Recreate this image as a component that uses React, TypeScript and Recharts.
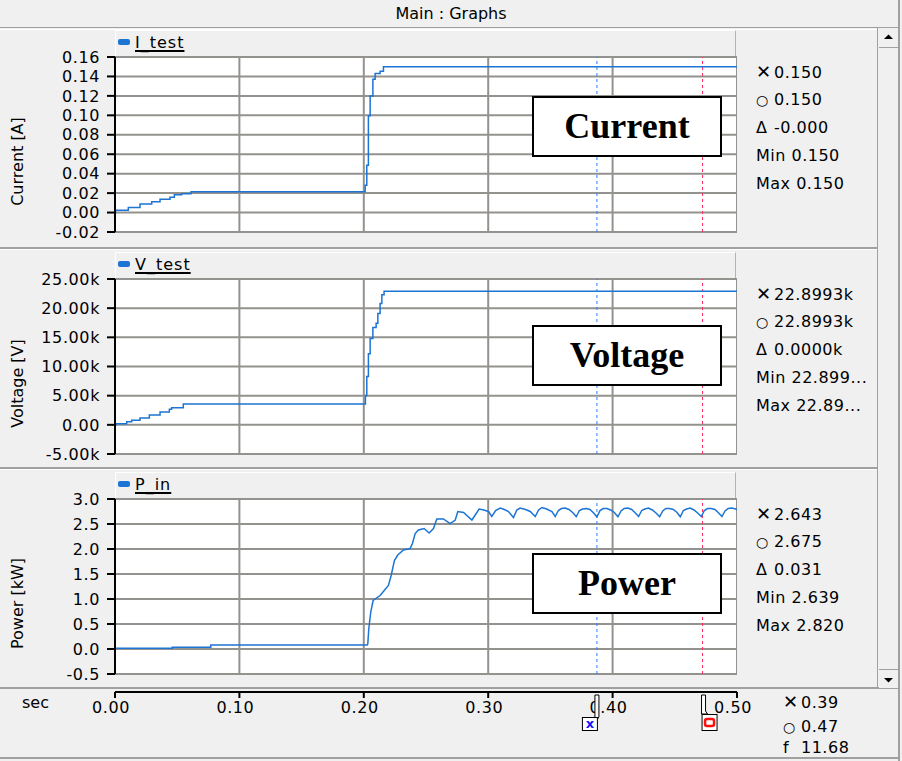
import React from "react";
import {
  CartesianGrid,
  Line,
  LineChart,
  ReferenceLine,
  XAxis,
  YAxis,
} from "recharts";

// PSCAD style "Main : Graphs" window, three stacked panels sharing one time axis

const FONT = '"DejaVu Sans", Verdana, sans-serif';
const SERIF = '"Liberation Serif", "Times New Roman", serif';
const BG = "#f0f0f0";
const EDGE = "#a0a0a0";
const TRACE = "#1c74d4";
const GRID = "#94928e";

const xTicks = [0, 0.1, 0.2, 0.3, 0.4, 0.5];
const cursorX = 0.3874;
const cursorO = 0.4723;
const cursorTicks = [cursorX, cursorO];

const iTicks = [-0.02, 0, 0.02, 0.04, 0.06, 0.08, 0.1, 0.12, 0.14, 0.16];
const vTicks = [-5000, 0, 5000, 10000, 15000, 20000, 25000];
const pTicks = [-0.5, 0, 0.5, 1.0, 1.5, 2.0, 2.5, 3.0];

// I_test [A]
const iTime = [0, 0.0005, 0.0107, 0.0201, 0.0295, 0.0362, 0.0442, 0.0477, 0.0536, 0.0611, 0.1997, 0.2011, 0.2024, 0.2037, 0.2051, 0.2073, 0.2091, 0.2131, 0.2158, 0.5];
const iValue = [0.0, 0.0023, 0.0052, 0.0087, 0.011, 0.0136, 0.0158, 0.0184, 0.0194, 0.0213, 0.0213, 0.028, 0.0486, 0.0995, 0.12, 0.137, 0.143, 0.1453, 0.15, 0.15];

// V_test [V]
const vTime = [0, 0.0008, 0.0094, 0.0134, 0.0201, 0.0276, 0.0362, 0.0437, 0.0455, 0.0549, 0.2003, 0.2013, 0.2024, 0.2037, 0.2051, 0.2073, 0.2099, 0.2113, 0.2131, 0.2145, 0.2163, 0.5];
const vValue = [0, 180, 540, 770, 1190, 1670, 2200, 2680, 2920, 3570, 3570, 5050, 8300, 12200, 14800, 16700, 17400, 19100, 20800, 22300, 22900, 22900];

// P_in [kW]
const pTime = [
  0, 0.046, 0.046, 0.077, 0.077, 0.2027, 0.2032, 0.204, 0.2056, 0.2075, 0.2131, 0.2171, 0.2198, 0.222,
  0.2246, 0.2273, 0.2319, 0.2372, 0.2391, 0.2413, 0.2439, 0.2485, 0.2525, 0.256, 0.2587, 0.264, 0.2694,
  0.2735, 0.2756, 0.2802, 0.2869, 0.2927, 0.2965, 0.3002, 0.3029, 0.306, 0.3096, 0.313, 0.3163, 0.3203,
  0.323, 0.3256, 0.33, 0.3338, 0.3378, 0.3405, 0.3432, 0.347, 0.3512, 0.3539,
  0.3564, 0.3589, 0.3619, 0.3649, 0.3679, 0.3708,
  0.3733, 0.3758, 0.3788, 0.3818, 0.3848, 0.3874,
  0.3899, 0.3924, 0.3954, 0.3984, 0.4014, 0.4043,
  0.4068, 0.4093, 0.4123, 0.4153, 0.4183, 0.4209,
  0.4234, 0.4259, 0.4289, 0.4319, 0.4349, 0.4378,
  0.4403, 0.4428, 0.4458, 0.4488, 0.4518, 0.4544,
  0.4569, 0.4594, 0.4624, 0.4654, 0.4684, 0.4713,
  0.4738, 0.4763, 0.4793, 0.4823, 0.4853, 0.4879,
  0.4904, 0.4929, 0.4959, 0.4989, 0.5,
];
const pValue = [
  0.015, 0.015, 0.035, 0.035, 0.08, 0.08, 0.1, 0.4, 0.74, 0.97, 1.07, 1.19, 1.27, 1.47,
  1.77, 1.88, 1.98, 2.01, 2.11, 2.31, 2.38, 2.41, 2.32, 2.41, 2.6, 2.6, 2.51,
  2.58, 2.75, 2.73, 2.58, 2.8, 2.78, 2.75, 2.65, 2.77, 2.82, 2.79, 2.75, 2.63,
  2.78, 2.82, 2.79, 2.75, 2.65, 2.78, 2.83, 2.8, 2.75, 2.65,
  2.77, 2.81, 2.82, 2.79, 2.73, 2.645,
  2.77, 2.8, 2.81, 2.79, 2.72, 2.643,
  2.77, 2.81, 2.81, 2.78, 2.73, 2.645,
  2.76, 2.81, 2.82, 2.79, 2.72, 2.65,
  2.77, 2.8, 2.82, 2.78, 2.72, 2.645,
  2.76, 2.81, 2.81, 2.79, 2.73, 2.645,
  2.77, 2.8, 2.82, 2.78, 2.72, 2.65,
  2.77, 2.81, 2.81, 2.79, 2.72, 2.65,
  2.76, 2.81, 2.82, 2.8, 2.79,
];

const iData = iTime.map((t, k) => ({ t, v: iValue[k] }));
const vData = vTime.map((t, k) => ({ t, v: vValue[k] }));
const pData = pTime.map((t, k) => ({ t, v: pValue[k] }));

const fmtI = (v: number) => v.toFixed(2);
const fmtV = (v: number) => (v === 0 ? "0.00" : `${(v / 1000).toFixed(2)}k`);
const fmtP = (v: number) => v.toFixed(1);

function AxisTitle({ viewBox, value }: any) {
  const cy = (viewBox ? viewBox.y + viewBox.height / 2 : 97) + 17;
  return (
    <text
      x={23}
      y={cy}
      transform={`rotate(-90 23 ${cy})`}
      textAnchor="middle"
      fontSize={16}
      fontFamily={FONT}
      fill="#000"
    >
      {value}
    </text>
  );
}

// cursor flags hanging under the time axis (drawn as ticks of a cursor axis)
function CursorFlag({ x, y, payload }: any) {
  const top = y + 4;
  if (Math.abs(payload.value - cursorX) < 1e-6) {
    return (
      <g>
        <path d={`M${x - 2},${top} h4 v22 l-2,3 h-2 z`} fill="#fff" stroke="#000" strokeWidth={1} />
        <rect x={x - 14.5} y={top + 22.5} width={15} height={13} fill="#fff" stroke="#000" strokeWidth={1} />
        <text x={x - 7} y={top + 33} textAnchor="middle" fontSize={13} fontWeight="bold" fontFamily={FONT} fill="#1515ff">
          x
        </text>
      </g>
    );
  }
  return (
    <g>
      <path d={`M${x - 1},${top} h4 v16 l2,3 h-6 z`} fill="#fff" stroke="#000" strokeWidth={1} />
      <rect x={x - 0.5} y={top + 19.5} width={15} height={16} fill="#fff" stroke="#000" strokeWidth={1} />
      <rect x={x + 2.5} y={top + 24} width={9} height={7} rx={2} fill="#fff" stroke="#ff1010" strokeWidth={2.5} />
    </g>
  );
}

interface PanelProps {
  plotTop: number;
  data: { t: number; v: number }[];
  ticks: number[];
  fmt: (v: number) => string;
  title: string;
  legend: string;
  step: boolean;
  info: string[];
  note: string;
  noteTop: number;
}

function Symbol({ k, s }: { k: number; s: string }) {
  return (
    <span
      style={{
        display: "inline-block",
        width: 18,
        fontSize: k === 1 ? 14 : k === 0 ? 18 : 16,
        fontWeight: k === 1 ? "bold" : "normal",
      }}
    >
      {s}
    </span>
  );
}

function Panel({ plotTop, data, ticks, fmt, title, legend, step, info, note, noteTop }: PanelProps) {
  const syms = ["✕", "○", "Δ"];
  return (
    <>
      {/* legend strip */}
      <div
        style={{
          position: "absolute",
          left: 115,
          top: plotTop - 27,
          width: 621,
          height: 27,
          boxSizing: "border-box",
          borderTop: "1px solid #fff",
          borderLeft: "1px solid #fff",
          borderRight: "1px solid #b4b4b4",
          background: BG,
        }}
      />
      <div
        style={{
          position: "absolute",
          left: 118,
          top: plotTop - 18,
          width: 12,
          height: 6,
          borderRadius: 2,
          background: TRACE,
        }}
      />
      <div
        style={{
          position: "absolute",
          left: 135,
          top: plotTop - 24,
          fontSize: 16,
          lineHeight: "20px",
          letterSpacing: 1,
          textDecoration: "underline",
          textDecorationThickness: 2,
          textUnderlineOffset: 2,
        }}
      >
        {legend}
      </div>

      <div style={{ position: "absolute", left: 0, top: plotTop - 10 }}>
        <LineChart width={737} height={195} data={data} margin={{ top: 10, right: 0, bottom: 10, left: 0 }}>
          <CartesianGrid fill="#ffffff" horizontal={false} vertical={false} />
          <XAxis
            type="number"
            dataKey="t"
            domain={[0, 0.5]}
            ticks={xTicks}
            height={0}
            tick={false}
            tickLine={false}
            axisLine={false}
          />
          <YAxis
            type="number"
            domain={[ticks[0], ticks[ticks.length - 1]]}
            ticks={ticks}
            interval={0}
            width={115}
            tickFormatter={fmt}
            tick={{ fill: "#000", fontSize: 16, fontFamily: FONT, letterSpacing: 0.6 }}
            tickSize={8}
            tickMargin={7}
            axisLine={{ stroke: "#000", strokeWidth: 2 }}
            tickLine={{ stroke: "#000", strokeWidth: 2 }}
            label={<AxisTitle value={title} />}
          />
          {ticks.map((v) => (
            <ReferenceLine key={`h${v}`} y={v} stroke={GRID} strokeWidth={2} />
          ))}
          {xTicks.slice(1).map((v) => (
            <ReferenceLine key={`v${v}`} x={v} stroke={GRID} strokeWidth={2} />
          ))}
          <ReferenceLine x={cursorX} stroke="#2a80ff" strokeDasharray="3 3" />
          <ReferenceLine x={cursorO} stroke="#ff2a5c" strokeDasharray="3 3" />
          <Line
            type={step ? "stepAfter" : "linear"}
            dataKey="v"
            stroke={TRACE}
            strokeWidth={1.5}
            dot={false}
            isAnimationActive={false}
          />
        </LineChart>
      </div>

      {/* annotation box */}
      <div
        style={{
          position: "absolute",
          left: 532,
          top: noteTop,
          width: 190,
          height: 61,
          boxSizing: "border-box",
          border: "2px solid #000",
          background: "#fff",
          fontFamily: SERIF,
          fontWeight: "bold",
          fontSize: 36,
          lineHeight: "57px",
          textAlign: "center",
        }}
      >
        {note}
      </div>

      {/* cursor readouts */}
      {info.map((r, k) => (
        <div
          key={k}
          style={{
            position: "absolute",
            left: 756,
            top: plotTop + 15 + k * 28 - 10,
            height: 20,
            lineHeight: "20px",
            fontSize: 16,
            letterSpacing: 0.5,
            whiteSpace: "nowrap",
          }}
        >
          {k < 3 ? (
            <>
              <Symbol k={k} s={syms[k]} />
              {r}
            </>
          ) : (
            r
          )}
        </div>
      ))}
    </>
  );
}

const line = (style: React.CSSProperties, key?: number) => (
  <div key={key} style={{ position: "absolute", ...style }} />
);

export default function App() {
  return (
    <div
      style={{
        position: "absolute",
        left: 0,
        top: 0,
        width: 902,
        height: 761,
        overflow: "hidden",
        background: BG,
        fontFamily: FONT,
        color: "#000",
      }}
    >
      {/* title bar */}
      <div style={{ position: "absolute", left: 0, top: 4, width: 902, textAlign: "center", fontSize: 16, lineHeight: "20px" }}>
        Main : Graphs
      </div>
      {line({ left: 0, top: 27, width: 900, height: 1, background: EDGE })}
      {line({ left: 898, top: 0, width: 2, height: 761, background: EDGE })}

      {/* panel separators */}
      {[28, 248, 468].map((y) => line({ left: 0, top: y + 1, width: 878, height: 1, background: "#fff" }, y))}
      {[247, 467].map((y) => line({ left: 0, top: y, width: 878, height: 2, background: EDGE }, y))}
      {line({ left: 0, top: 687, width: 898, height: 2, background: EDGE })}
      {line({ left: 0, top: 757, width: 898, height: 2, background: EDGE })}

      {/* scrollbar */}
      {line({ left: 877, top: 28, width: 1, height: 660, background: EDGE })}
      {line({ left: 879, top: 29, width: 19, height: 18, background: BG, borderBottom: `1px solid ${EDGE}` })}
      {line({ left: 879, top: 669, width: 19, height: 18, background: BG, borderTop: `1px solid ${EDGE}` })}
      <svg style={{ position: "absolute", left: 879, top: 29 }} width={19} height={18}>
        <path d="M5,10 L9.5,5.5 L14,10 Z" fill="#000" />
      </svg>
      <svg style={{ position: "absolute", left: 879, top: 670 }} width={19} height={18}>
        <path d="M5,8 L9.5,12.5 L14,8 Z" fill="#000" />
      </svg>

      <Panel
        plotTop={57}
        data={iData}
        ticks={iTicks}
        fmt={fmtI}
        title="Current [A]"
        legend="I_test"
        step
        info={["0.150", "0.150", "-0.000", "Min 0.150", "Max 0.150"]}
        note="Current"
        noteTop={96}
      />
      <Panel
        plotTop={279}
        data={vData}
        ticks={vTicks}
        fmt={fmtV}
        title="Voltage [V]"
        legend="V_test"
        step
        info={["22.8993k", "22.8993k", "0.0000k", "Min 22.899...", "Max 22.89..."]}
        note="Voltage"
        noteTop={325}
      />
      <Panel
        plotTop={499}
        data={pData}
        ticks={pTicks}
        fmt={fmtP}
        title="Power [kW]"
        legend="P_in"
        step={false}
        info={["2.643", "2.675", "0.031", "Min 2.639", "Max 2.820"]}
        note="Power"
        noteTop={553}
      />

      {/* shared time axis */}
      <div style={{ position: "absolute", left: 22, top: 693, fontSize: 16, lineHeight: "20px" }}>sec</div>
      <div style={{ position: "absolute", left: 0, top: 690 }}>
        <LineChart width={762} height={62} data={pData} margin={{ top: 0, right: 25, bottom: 0, left: 115 }}>
          <XAxis
            type="number"
            dataKey="t"
            domain={[0, 0.5]}
            ticks={xTicks}
            interval={0}
            height={60}
            tickFormatter={(v: number) => v.toFixed(2)}
            tick={{ fill: "#000", fontSize: 16, fontFamily: FONT, letterSpacing: 0.6, dx: -4 }}
            tickSize={6}
            tickMargin={4}
            axisLine={{ stroke: "#000", strokeWidth: 2 }}
            tickLine={{ stroke: "#000", strokeWidth: 2 }}
          />
          <XAxis
            xAxisId="cursor"
            orientation="top"
            type="number"
            dataKey="t"
            domain={[0, 0.5]}
            allowDataOverflow
            ticks={cursorTicks}
            interval={0}
            height={1}
            tickSize={0}
            tickMargin={0}
            tickLine={false}
            axisLine={false}
            tick={<CursorFlag />}
          />
          <YAxis hide domain={[0, 1]} />
        </LineChart>
      </div>
      {[
        ["✕", "0.39"],
        ["○", "0.47"],
        ["f", "11.68"],
      ].map(([s, v], k) => (
        <div
          key={k}
          style={{
            position: "absolute",
            left: 783,
            top: [691.5, 716.5, 738][k],
            height: 20,
            lineHeight: "20px",
            fontSize: 16,
            letterSpacing: 0.5,
            whiteSpace: "nowrap",
          }}
        >
          <Symbol k={k} s={s} />
          {v}
        </div>
      ))}
    </div>
  );
}
